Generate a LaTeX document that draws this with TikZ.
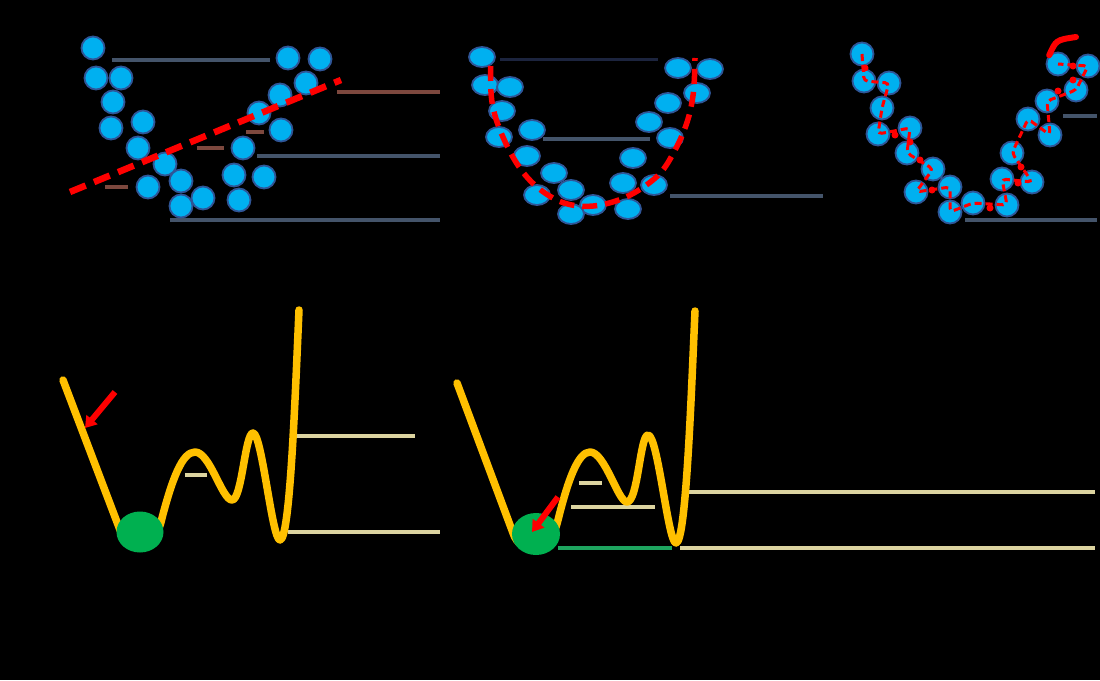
\documentclass[tikz,border=0pt]{standalone}
\usetikzlibrary{shapes.geometric,arrows.meta}
\definecolor{dotfill}{RGB}{0,176,240}
\definecolor{dotedge}{RGB}{47,85,151}
\definecolor{slate}{RGB}{68,84,106}
\definecolor{navy}{RGB}{28,36,62}
\definecolor{brownish}{RGB}{125,72,62}
\definecolor{beige}{RGB}{220,212,160}
\definecolor{curvey}{RGB}{255,192,0}
\definecolor{blobg}{RGB}{0,176,80}
\definecolor{lineg}{RGB}{30,165,95}
\tikzset{
  dot/.style={circle,fill=dotfill,draw=dotedge,line width=1.8pt,minimum size=23pt,inner sep=0pt},
  edot/.style={ellipse,fill=dotfill,draw=dotedge,line width=1.8pt,minimum width=26pt,minimum height=20pt,inner sep=0pt},
  guide/.style={slate,line width=4pt},
  bguide/.style={brownish,line width=4pt},
  yguide/.style={beige,line width=4.5pt},
  energy/.style={curvey,line width=7.5pt,line cap=round,line join=round},
  fitA/.style={red,line width=6.5pt,dash pattern=on 17pt off 9pt},
  fitB/.style={red,line width=5.5pt,dash pattern=on 15pt off 8pt},
  fitC/.style={red,line width=3pt,dash pattern=on 7pt off 4pt,rounded corners=4pt},
  tipdot/.style={circle,fill=red,minimum size=7pt,inner sep=0pt},
  kick/.style={red,line width=6pt,-{Triangle[length=11pt,width=14pt]}},
  blob/.style={fill=blobg}
}
\begin{document}
\begin{tikzpicture}[x=1pt,y=-1pt]
\fill[black] (0,0) rectangle (1100,680);
\useasboundingbox (0,0) rectangle (1100,680);

% ---------- panel 1 (top left) ----------
\draw[guide] (112,60) -- (270,60);
\draw[bguide] (337,92) -- (440,92);
\draw[bguide] (197,148) -- (224,148);
\draw[bguide] (105,187) -- (128,187);
\draw[bguide] (246,132) -- (264,132);
\draw[guide] (257,156) -- (440,156);
\draw[guide] (170,220) -- (440,220);
\foreach \n/\x/\y in {1/93/48,2/96/78,3/121/78,4/113/102,5/111/128,6/143/122,7/138/148,8/165/164,9/148/187,10/181/181,11/203/198,12/181/206,13/243/148,14/234/175,15/264/177,16/239/200,17/288/58,18/320/59,19/306/83,20/280/95,21/259/113,22/281/130}
  \node[dot] (a\n) at (\x,\y) {};
\coordinate (fa) at (70,192);
\coordinate (fb) at (341,80);
\draw[fitA] (fa) -- (fb);

% ---------- panel 2 (top middle) ----------
\draw[navy,line width=3pt] (500,59) -- (658,59);
\draw[guide] (543,139) -- (650,139);
\draw[guide] (670,196) -- (823,196);
\foreach \n/\x/\y in {1/482/57,2/485/85,3/510/87,4/502/111,5/499/137,6/532/130,7/527/156,8/554/173,9/537/195,10/571/190,11/593/205,12/571/214,13/633/158,14/623/183,15/654/185,16/628/209,17/678/68,18/710/69,19/697/93,20/668/103,21/649/122,22/670/138}
  \node[edot] (b\n) at (\x,\y) {};
\draw[fitB] plot[smooth,tension=0.6] coordinates {(490.7,66) (491.7,100) (500,130) (516.7,163.3) (536.7,186.7) (563.3,202.7) (593.3,206) (626.7,196.7) (656.7,176.7) (673.3,153.3) (686.7,123.3) (693.3,93.3) (695,58)};

% ---------- panel 3 (top right) ----------
\draw[guide] (1063,116) -- (1097,116);
\draw[guide] (965,220) -- (1097,220);
\foreach \n/\x/\y in {1/862/54,2/864/81,3/889/83,4/882/108,5/878/134,6/910/128,7/907/153,8/933/169,9/916/192,10/950/187,11/973/203,12/950/212,13/1012/153,14/1002/179,15/1032/182,16/1007/205,17/1058/64,18/1088/66,19/1076/90,20/1047/101,21/1028/119,22/1050/135}
  \node[dot] (c\n) at (\x,\y) {};
\coordinate (ctop) at (1056,40);
\coordinate (cend) at (1076,37);
\draw[fitC] (c1.center) -- (c2.center) -- (c3.center) -- (c4.center) -- (c5.center) -- (c6.center) -- (c7.center) -- (c8.center) -- (c9.center) -- (c10.center) -- (c12.center) -- (c11.center) -- (c16.center) -- (c14.center) -- (c15.center) -- (c13.center) -- (c21.center) -- (c22.center) -- (c20.center) -- (c19.center) -- (c18.center) -- (c17.center);
\draw[red,line width=6pt,line cap=round] (c17.north west) .. controls (ctop) .. (cend);
\foreach \x/\y in {865/68,895/135,910/142,920/160,932/190,990/208,1021/167,1018/183,1058/91,1073/80,1073/66}
  \node[tipdot] at (\x,\y) {};

% ---------- panel 4 (bottom left) ----------
\draw[yguide] (297,436) -- (415,436);
\draw[yguide] (288,532) -- (440,532);
\draw[yguide] (185,475) -- (207,475);
\draw[energy] (63,380) -- (120,530)
  .. controls (128,555) and (155,552) .. (162,518)
  .. controls (172,480) and (182,452) .. (195,452)
  .. controls (210,452) and (222,500) .. (232,500)
  .. controls (242,500) and (245,433) .. (253,433)
  .. controls (262,433) and (272,540) .. (280,540)
  .. controls (290,540) and (295,400) .. (299,310);
\node[blob,ellipse,minimum width=47pt,minimum height=41pt,inner sep=0pt] (g1) at (140,532) {};
\coordinate (k1s) at (115,392);
\coordinate (k1e) at (85,428);
\draw[kick] (k1s) -- (k1e);

% ---------- panel 5 (bottom middle) ----------
\draw[yguide] (688,492) -- (1095,492);
\draw[yguide] (680,548) -- (1095,548);
\draw[yguide] (579,483) -- (602,483);
\draw[yguide] (571,507) -- (655,507);
\draw[lineg,line width=4.5pt] (558,548) -- (672,548);
\draw[energy] (457,383) -- (513,533)
  .. controls (520,555) and (550,555) .. (558,520)
  .. controls (568,480) and (578,452) .. (590,452)
  .. controls (605,452) and (618,502) .. (627,502)
  .. controls (638,502) and (640,435) .. (648,435)
  .. controls (658,435) and (668,543) .. (676,543)
  .. controls (686,543) and (691,400) .. (695,311);
\node[blob,ellipse,minimum width=48pt,minimum height=42pt,inner sep=0pt] (g2) at (536,534) {};
\coordinate (k2s) at (558,497);
\coordinate (k2e) at (532,532);
\draw[kick] (k2s) -- (k2e);
\end{tikzpicture}
\end{document}
